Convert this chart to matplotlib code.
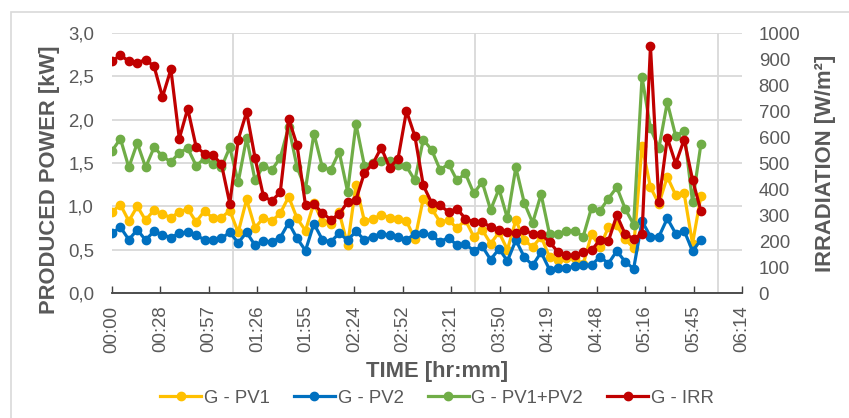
import numpy as np
import matplotlib.pyplot as plt
from matplotlib.ticker import FuncFormatter, MultipleLocator
from matplotlib.patches import Rectangle

plt.rcParams['font.family'] = ['Liberation Sans', 'DejaVu Sans']

# sample times, minutes from start (one reading every 5 min)
minutes = list(range(0, 355, 5))

pv1 = [0.935, 1.02, 0.83, 1.00, 0.84, 0.96, 0.91, 0.87, 0.935, 0.97, 0.82, 0.95,
       0.86, 0.87, 0.95, 0.70, 1.08, 0.75, 0.87, 0.83, 0.92, 1.11, 0.86, 0.72,
       1.04, 0.82, 0.80, 0.935, 0.55, 1.25, 0.83, 0.855, 0.90, 0.87, 0.85, 0.83,
       0.62, 1.09, 0.97, 0.82, 0.84, 0.75, 0.84, 0.65, 0.73, 0.57, 0.70, 0.50,
       0.84, 0.61, 0.53, 0.65, 0.415, 0.38, 0.40, 0.40, 0.33, 0.68, 0.53, 0.76,
       0.78, 0.62, 0.52, 1.70, 1.22, 1.03, 1.34, 1.13, 1.15, 0.57, 1.12]

pv2 = [0.69, 0.76, 0.615, 0.73, 0.61, 0.715, 0.67, 0.64, 0.69, 0.70, 0.665, 0.615,
       0.615, 0.63, 0.70, 0.58, 0.70, 0.55, 0.60, 0.59, 0.64, 0.81, 0.63, 0.49,
       0.80, 0.615, 0.59, 0.69, 0.61, 0.71, 0.615, 0.65, 0.685, 0.665, 0.645, 0.615,
       0.68, 0.69, 0.665, 0.59, 0.64, 0.55, 0.56, 0.49, 0.54, 0.385, 0.51, 0.37,
       0.61, 0.415, 0.32, 0.47, 0.27, 0.29, 0.29, 0.31, 0.32, 0.32, 0.42, 0.34,
       0.485, 0.36, 0.28, 0.83, 0.65, 0.65, 0.86, 0.685, 0.72, 0.485, 0.615]

pv12 = [1.64, 1.78, 1.45, 1.73, 1.45, 1.68, 1.58, 1.51, 1.62, 1.67, 1.47, 1.55,
        1.49, 1.45, 1.68, 1.28, 1.79, 1.30, 1.47, 1.42, 1.56, 1.92, 1.45, 1.20,
        1.84, 1.45, 1.42, 1.63, 1.17, 1.95, 1.47, 1.50, 1.52, 1.52, 1.48, 1.46,
        1.30, 1.77, 1.65, 1.42, 1.49, 1.30, 1.38, 1.15, 1.28, 0.96, 1.20, 0.86,
        1.45, 1.04, 0.81, 1.14, 0.68, 0.68, 0.715, 0.72, 0.65, 0.985, 0.95, 1.09,
        1.22, 0.97, 0.79, 2.49, 1.90, 1.67, 2.20, 1.81, 1.87, 1.05, 1.72]

irr = [892, 914, 892, 886, 897, 872, 754, 860, 594, 709, 562, 536,
       529, 497, 344, 590, 696, 520, 372, 354, 388, 670, 568, 337,
       341, 308, 282, 303, 350, 359, 462, 497, 559, 482, 517, 700,
       603, 414, 346, 337, 312, 324, 286, 273, 273, 254, 241, 235,
       231, 244, 226, 226, 196, 158, 145, 145, 158, 164, 205, 200,
       299, 226, 209, 228, 949, 350, 597, 497, 590, 436, 315]

# time axis in days (excel style)
t = np.array(minutes) / 1440.0

grey = '#595959'

fig = plt.figure(figsize=(8.49, 4.18), dpi=100)
W, H = 849, 418
ax = fig.add_axes([112 / W, 1 - 293 / H, 630 / W, 260 / H])
ax2 = ax.twinx()

kw = dict(lw=2.3, marker='o', ms=6.0)
l1, = ax.plot(t, pv1, color='#FFC000', label='G - PV1', **kw)
l2, = ax.plot(t, pv2, color='#0070C0', label='G - PV2', **kw)
l3, = ax.plot(t, pv12, color='#70AD47', label='G - PV1+PV2', **kw)
l4, = ax2.plot(t, irr, color='#C00000', label='G - IRR', **kw)

ax.set_xlim(0, 0.26)
ax.set_ylim(0, 3.0)
ax2.set_ylim(0, 1000)

ax.xaxis.set_major_locator(MultipleLocator(0.02))
ax.set_xticks(np.arange(0.05, 0.26, 0.05), minor=True)
ax.yaxis.set_major_locator(MultipleLocator(0.5))
ax2.yaxis.set_major_locator(MultipleLocator(100))


def hhmm(v, pos):
    m = int(v * 1440 + 1e-6)
    return f"{m // 60:02d}:{m % 60:02d}"


ax.xaxis.set_major_formatter(FuncFormatter(hhmm))
ax.yaxis.set_major_formatter(FuncFormatter(lambda v, p: f"{v:.1f}".replace('.', ',')))

ax.grid(True, which='major', axis='y', color='#D9D9D9', lw=1.3)
ax.grid(True, which='minor', axis='x', color='#D9D9D9', lw=1.3)
ax.set_axisbelow(True)

for s in ['top', 'right', 'left']:
    ax.spines[s].set_visible(False)
for s in ax2.spines.values():
    s.set_visible(False)
ax.spines['bottom'].set_color('#404040')
ax.spines['bottom'].set_linewidth(1.3)

ax.tick_params(axis='x', which='major', direction='in', length=5, width=1, color='#404040',
               labelsize=13.4, labelcolor=grey, labelrotation=90, pad=9)
ax.tick_params(axis='x', which='minor', length=0)
ax.tick_params(axis='y', length=0, labelsize=13.4, labelcolor=grey, pad=13)
ax2.tick_params(axis='y', length=0, labelsize=13.4, labelcolor=grey, pad=12)

fig.text(437 / W, 1 - 371 / H, 'TIME [hr:mm]', ha='center', va='center',
         fontsize=15.8, fontweight='bold', color=grey)
fig.text(50 / W, 1 - 180 / H, 'PRODUCED POWER [kW]', ha='center', va='center',
         rotation=90, fontsize=15.8, fontweight='bold', color=grey)
fig.text(826 / W, 1 - 163 / H, 'IRRADIATION [W/m²]', ha='center', va='center',
         rotation=90, fontsize=15.8, fontweight='bold', color=grey)

leg = fig.legend(handles=[l1, l2, l3, l4], loc='center', ncol=4,
                 bbox_to_anchor=(437 / W, 1 - 398 / H), frameon=False,
                 fontsize=13.4, handlelength=2.2, handletextpad=0.15,
                 columnspacing=1.3, labelcolor=grey)

# chart border like the excel chart area
fig.patches.append(Rectangle((11 / W, -0.5), 1.5, 0.5 + (H - 12) / H,
                             transform=fig.transFigure, fill=False,
                             edgecolor='#D9D9D9', lw=1.2))

fig.savefig('out.png', dpi=100)
